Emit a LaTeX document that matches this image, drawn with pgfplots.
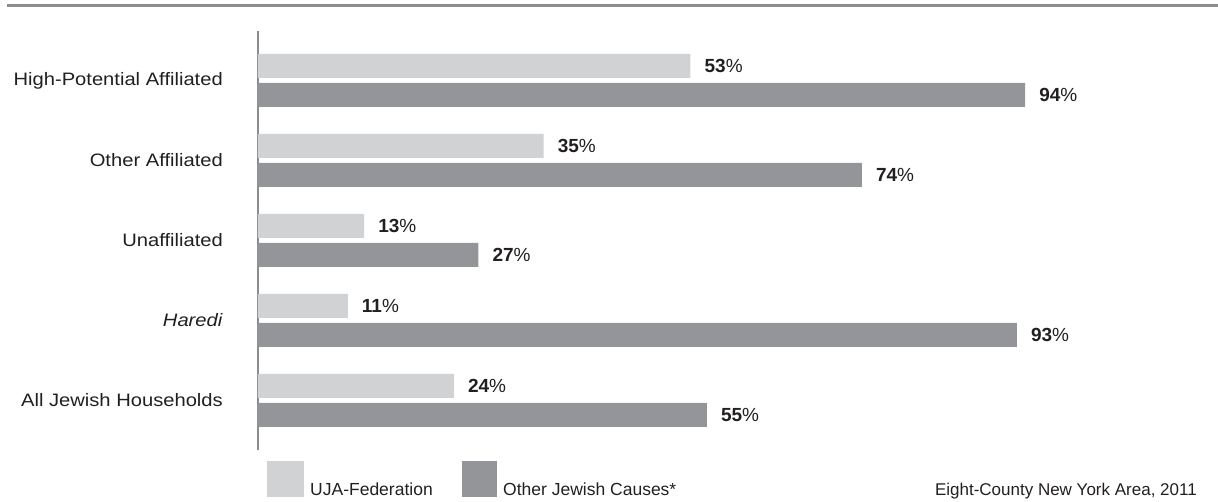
\documentclass[border=0pt]{standalone}
\usepackage{fontspec}
\setmainfont{Liberation Sans}
\newfontfamily\catfont[FakeStretch=1.12]{Liberation Sans}
\usepackage{pgfplots}
\pgfplotsset{compat=1.18}
\definecolor{lightbar}{HTML}{D1D2D4}
\definecolor{darkbar}{HTML}{939598}
\definecolor{rulegray}{HTML}{8C8C8C}
\definecolor{txt}{HTML}{231F20}
\begin{document}
\begin{tikzpicture}[x=1bp,y=1bp]
\useasboundingbox (-258,-52) rectangle (960,450);
\begin{axis}[
  at={(0,0)}, anchor=south west,
  xbar, scale only axis, width=816bp, height=419.2bp,
  xmin=0, xmax=100, ymin=-0.62, ymax=4.62,
  axis x line=none, axis y line=left,
  y axis line style={-, draw=rulegray, line width=2bp},
  ytick={0,1,2,3,4},
  yticklabels={All Jewish Households, \textit{Haredi}, Unaffiliated, Other Affiliated, High-Potential Affiliated},
  major tick length=0pt,
  yticklabel style={anchor=east, inner sep=0pt, xshift=-35bp, font=\catfont\fontsize{18bp}{20bp}\selectfont, text=txt},
  bar width=24bp,
  point meta=x,
  /pgf/number format/assume math mode=true,
  nodes near coords={\textbf{\pgfmathprintnumber{\pgfplotspointmeta}}\%},
  nodes near coords style={anchor=west, inner sep=0pt, xshift=14bp, font=\fontsize{19bp}{20bp}\selectfont, text=txt},
  clip=false,
]
\addplot[fill=lightbar, draw=none, bar shift=14.5bp] coordinates {(24,0) (11,1) (13,2) (35,3) (53,4)};
\addplot[fill=darkbar, draw=none, bar shift=-14.5bp] coordinates {(55,0) (93,1) (27,2) (74,3) (94,4)};
\end{axis}
\fill[lightbar] (9,-11) rectangle (46,-47);
\node[anchor=base west, inner sep=0pt, font=\fontsize{17.5bp}{20bp}\selectfont, text=txt] at (52,-46) {UJA-Federation};
\fill[darkbar] (204,-11) rectangle (239,-47);
\node[anchor=base west, inner sep=0pt, font=\fontsize{17.5bp}{20bp}\selectfont, text=txt] at (245,-46) {Other Jewish Causes*};
\node[anchor=base east, inner sep=0pt, font=\fontsize{17bp}{20bp}\selectfont, text=txt] at (939,-46) {Eight-County New York Area, 2011};
\draw[rulegray, line width=3bp] (-251,444.3) -- (960,444.3);
\end{tikzpicture}
\end{document}
